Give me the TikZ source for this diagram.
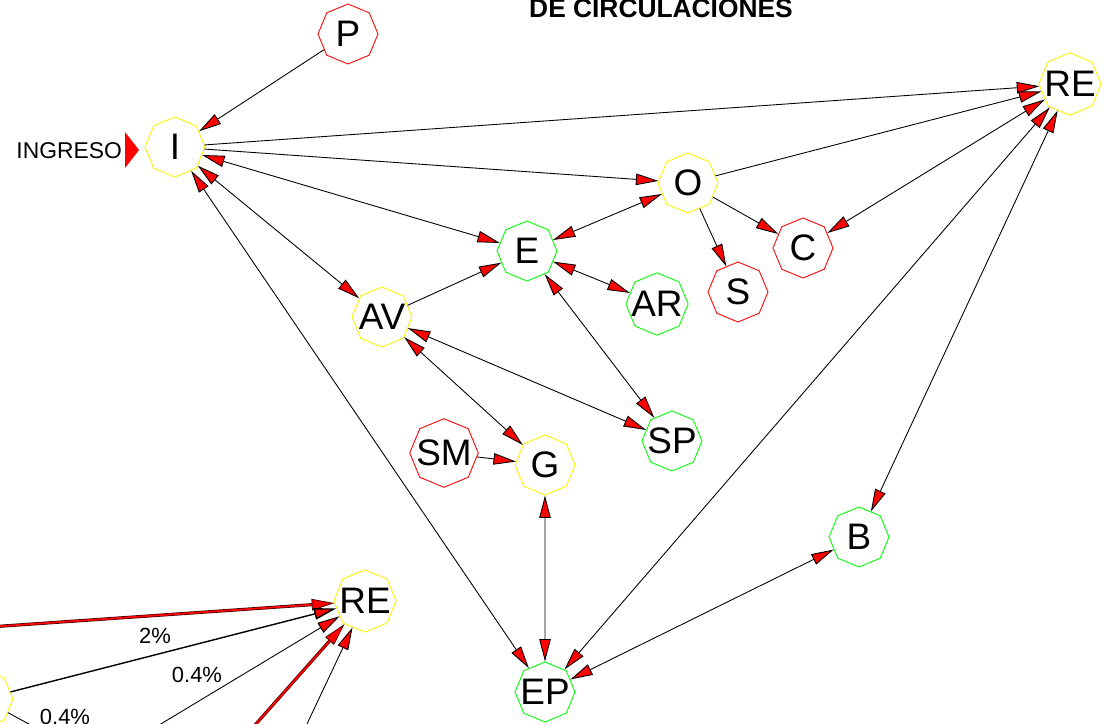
\documentclass[tikz,border=0pt]{standalone}
\usepackage{fontspec}
\setmainfont{Liberation Sans}
\usetikzlibrary{shapes.geometric,arrows.meta}

\begin{document}
\begin{tikzpicture}[
  x=0.02cm, y=-0.02cm, line width=0.5pt,
  >={Triangle[length=0.45cm,width=0.23cm,fill=red]},
  zona/.style={regular polygon,regular polygon sides=8,shape border rotate=22.5,draw,minimum size=1.2cm,inner sep=-3pt,font=\fontsize{21}{21}\selectfont},
  zamarilla/.style={zona,draw=yellow},
  zverde/.style={zona,draw=green},
  zroja/.style={zona,draw=red},
  flujorojo/.style={draw=black!75!red,line width=0.4pt,double=red,double distance=1pt},
  pct/.style={font=\fontsize{12.5}{12.5}\selectfont}
]
  \useasboundingbox (0,0) rectangle (1110,724);
  \clip (0,0) rectangle (1110,724);
  \node[anchor=base,font=\fontsize{15}{15}\selectfont\bfseries] (titulo) at (661,17) {DE CIRCULACIONES};
  \node[anchor=base west,inner sep=0pt,font=\fontsize{13}{13}\selectfont] (ingreso) at (16,158) {INGRESO};
  \fill[red] (125,132) -- (139,150) -- (125,168) -- cycle;
  \node[zroja] (P) at (348,34) {P};
  \node[zamarilla] (I) at (175,147) {I};
  \node[zamarilla] (RE) at (1070,84) {RE};
  \node[zamarilla] (O) at (688,183) {O};
  \node[zverde] (E) at (527,251) {E};
  \node[zroja] (C) at (803,248) {C};
  \node[zroja] (S) at (738,292) {S};
  \node[zverde] (AR) at (657,304) {AR};
  \node[zamarilla] (AV) at (382,317) {AV};
  \node[zverde] (SP) at (672,441) {SP};
  \node[zroja] (SM) at (444,453) {SM};
  \node[zamarilla] (G) at (545,465) {G};
  \node[zverde] (B) at (859,537) {B};
  \node[zverde] (EP) at (545,692) {EP};
  \draw[->] (P) -- (I);
  \draw[->] (I) -- (RE);
  \draw[->] (I) -- (O);
  \draw[<->] (I) -- (E);
  \draw[<->] (I) -- (AV);
  \draw[<->] (I) -- (EP);
  \draw[<->] (O) -- (E);
  \draw[->] (O) -- (RE);
  \draw[->] (O) -- (C);
  \draw[->] (O) -- (S);
  \draw[<->] (RE) -- (C);
  \draw[<->] (RE) -- (EP);
  \draw[<->] (RE) -- (B);
  \draw[<->] (E) -- (AR);
  \draw[<->] (E) -- (SP);
  \draw[->] (AV) -- (E);
  \draw[<->] (AV) -- (SP);
  \draw[<->] (AV) -- (G);
  \draw[->] (SM) -- (G);
  \draw[<->] (G) -- (EP);
  \draw[<->] (B) -- (EP);
  % parte inferior (cortada)
  \node[zamarilla] (REb) at (365,601) {RE};
  \node[zamarilla] (Xb) at (-17,699) {};
  \coordinate (f1) at (-40,629);
  \coordinate (f3) at (101,760);
  \coordinate (f4) at (224,760);
  \coordinate (f5) at (290,760);
  \coordinate (f6) at (60,741);
  \draw[flujorojo,->] (f1) -- (REb);
  \draw[->,line width=0.8pt] (Xb) -- (REb);
  \draw[->] (f3) -- (REb);
  \draw[flujorojo,->] (f4) -- (REb);
  \draw[->] (f5) -- (REb);
  \draw (Xb) -- (f6);
  \node[pct] (p1) at (155,636) {2\%};
  \node[pct] (p2) at (197,675) {0.4\%};
  \node[pct] (p3) at (65,717) {0.4\%};
\end{tikzpicture}
\end{document}
